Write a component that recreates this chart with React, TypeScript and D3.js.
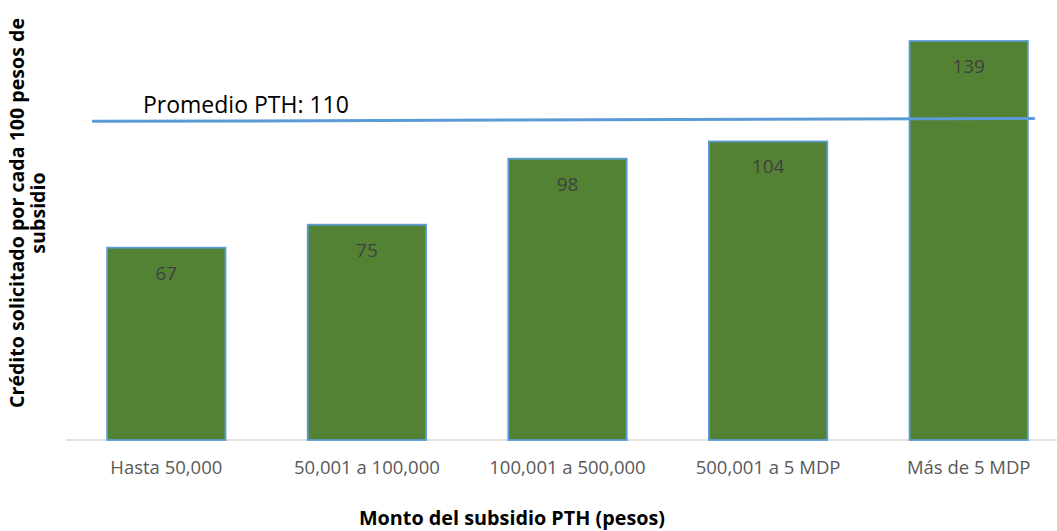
import { useEffect, useRef } from 'react';
import * as d3 from 'd3';

const categories = ['Hasta 50,000', '50,001 a 100,000', '100,001 a 500,000', '500,001 a 5 MDP', 'Más de 5 MDP'];
const values = [67, 75, 98, 104, 139];
const avgValue = 110;
const avgLineEnds = [111, 112]; // the drawn line is slightly tilted in the original
const yTitle = ['Crédito solicitado por cada 100 pesos de', 'subsidio'];
const xTitle = 'Monto del subsidio PTH (pesos)';

const W = 1057;
const H = 531;
const FONT = '"Open Sans", "Noto Sans", sans-serif';

export default function App() {
  const svgRef = useRef<SVGSVGElement | null>(null);

  useEffect(() => {
    if (!svgRef.current) return;
    const svg = d3.select(svgRef.current);
    svg.selectAll('*').remove();

    const x = d3.scaleBand<string>().domain(categories).range([66, 1069]).paddingInner(0.41).paddingOuter(0.205);
    const y = d3.scaleLinear().domain([0, 139]).range([440, 41]);

    // baseline
    svg
      .append('line')
      .attr('x1', 66)
      .attr('x2', W)
      .attr('y1', y(0))
      .attr('y2', y(0))
      .attr('stroke', '#d9d9d9')
      .attr('stroke-width', 1.3);

    // Bars
    const bars = svg.append('g');
    bars
      .selectAll('rect')
      .data(values)
      .enter()
      .append('rect')
      .attr('x', (_, i) => x(categories[i])!)
      .attr('y', (d) => y(d))
      .attr('width', x.bandwidth())
      .attr('height', (d) => y(0) - y(d))
      .attr('fill', '#548235')
      .attr('stroke', '#5b9bd5')
      .attr('stroke-width', 1.8);

    bars
      .selectAll('text')
      .data(values)
      .enter()
      .append('text')
      .attr('x', (_, i) => x(categories[i])! + x.bandwidth() / 2)
      .attr('y', (d) => y(d) + 32)
      .attr('text-anchor', 'middle')
      .attr('font-family', FONT)
      .attr('font-size', 19)
      .attr('fill', '#404040')
      .text((d) => d);

    // Average line
    const first = categories[0];
    const last = categories[categories.length - 1];
    svg
      .append('line')
      .attr('x1', x(first)! - 15)
      .attr('x2', x(last)! + x.bandwidth() + 7)
      .attr('y1', y(avgLineEnds[0]))
      .attr('y2', y(avgLineEnds[1]))
      .attr('stroke', '#5b9bd5')
      .attr('stroke-width', 3);

    svg
      .append('text')
      .attr('x', 143)
      .attr('y', 113)
      .attr('font-family', FONT)
      .attr('font-size', 23)
      .attr('fill', '#000')
      .text(`Promedio PTH: ${avgValue}`);

    // Category labels
    svg
      .append('g')
      .selectAll('text')
      .data(categories)
      .enter()
      .append('text')
      .attr('x', (d) => x(d)! + x.bandwidth() / 2)
      .attr('y', 474)
      .attr('text-anchor', 'middle')
      .attr('font-family', FONT)
      .attr('font-size', 18.5)
      .attr('fill', '#595959')
      .text((d) => d);

    // Axis titles
    svg
      .append('text')
      .attr('x', 512)
      .attr('y', 525)
      .attr('text-anchor', 'middle')
      .attr('font-family', FONT)
      .attr('font-weight', 700)
      .attr('font-size', 19.8)
      .attr('fill', '#000')
      .text(xTitle);

    const yt = svg
      .append('text')
      .attr('transform', 'translate(24,213) rotate(-90)')
      .attr('text-anchor', 'middle')
      .attr('font-family', FONT)
      .attr('font-weight', 700)
      .attr('font-size', 19.6)
      .attr('fill', '#000');
    yTitle.forEach((t, i) => {
      yt.append('tspan').attr('x', 0).attr('dy', i === 0 ? 0 : 21).text(t);
    });
  }, []);

  return (
    <svg
      ref={svgRef}
      width={W}
      height={H}
      style={{ position: 'absolute', left: 0, top: 0, background: '#fff', display: 'block' }}
    />
  );
}
